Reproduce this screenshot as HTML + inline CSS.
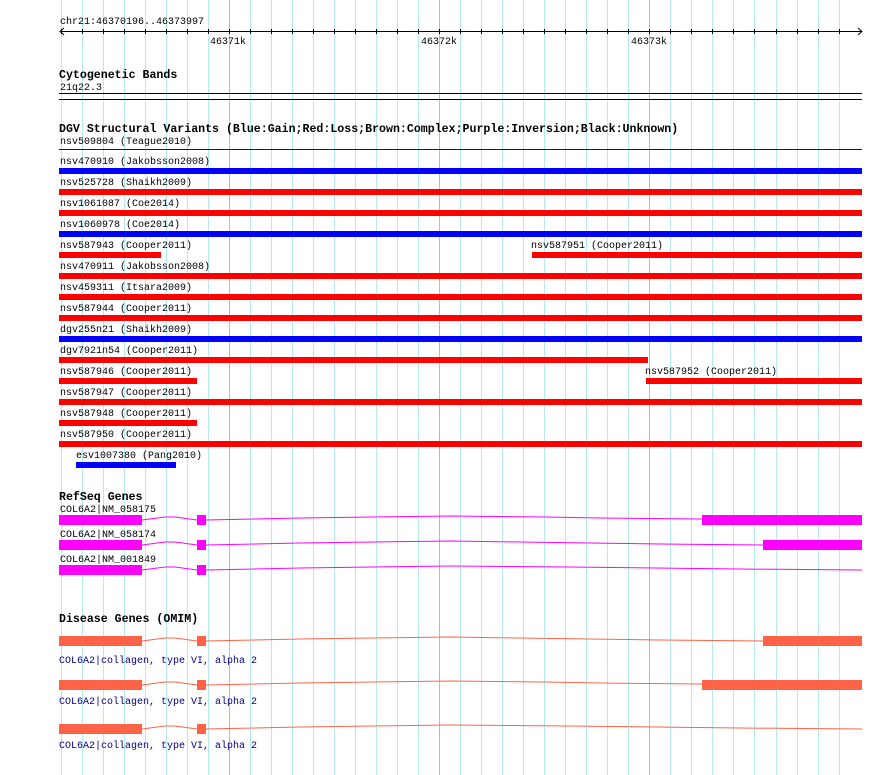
<!DOCTYPE html>
<html><head><meta charset="utf-8"><style>
html,body{margin:0;padding:0;background:#fff}
svg{display:block}
text{font-family:"Liberation Mono",monospace;font-size:10px;fill:#000}
.b{font-weight:bold;font-size:11.6px}
.n{fill:#00008b}
</style></head><body>
<svg width="890" height="775" viewBox="0 0 890 775" xmlns="http://www.w3.org/2000/svg">
<g stroke="#b4eaf0" stroke-width="1">
<line x1="61.5" y1="0" x2="61.5" y2="775"/><line x1="82.5" y1="0" x2="82.5" y2="775"/><line x1="103.5" y1="0" x2="103.5" y2="775"/><line x1="124.5" y1="0" x2="124.5" y2="775"/><line x1="145.5" y1="0" x2="145.5" y2="775"/><line x1="166.5" y1="0" x2="166.5" y2="775"/><line x1="187.5" y1="0" x2="187.5" y2="775"/><line x1="208.5" y1="0" x2="208.5" y2="775"/><line x1="250.5" y1="0" x2="250.5" y2="775"/><line x1="271.5" y1="0" x2="271.5" y2="775"/><line x1="292.5" y1="0" x2="292.5" y2="775"/><line x1="313.5" y1="0" x2="313.5" y2="775"/><line x1="334.5" y1="0" x2="334.5" y2="775"/><line x1="355.5" y1="0" x2="355.5" y2="775"/><line x1="376.5" y1="0" x2="376.5" y2="775"/><line x1="397.5" y1="0" x2="397.5" y2="775"/><line x1="418.5" y1="0" x2="418.5" y2="775"/><line x1="460.5" y1="0" x2="460.5" y2="775"/><line x1="481.5" y1="0" x2="481.5" y2="775"/><line x1="502.5" y1="0" x2="502.5" y2="775"/><line x1="523.5" y1="0" x2="523.5" y2="775"/><line x1="544.5" y1="0" x2="544.5" y2="775"/><line x1="565.5" y1="0" x2="565.5" y2="775"/><line x1="586.5" y1="0" x2="586.5" y2="775"/><line x1="607.5" y1="0" x2="607.5" y2="775"/><line x1="628.5" y1="0" x2="628.5" y2="775"/><line x1="670.5" y1="0" x2="670.5" y2="775"/><line x1="691.5" y1="0" x2="691.5" y2="775"/><line x1="712.5" y1="0" x2="712.5" y2="775"/><line x1="733.5" y1="0" x2="733.5" y2="775"/><line x1="754.5" y1="0" x2="754.5" y2="775"/><line x1="776.5" y1="0" x2="776.5" y2="775"/><line x1="797.5" y1="0" x2="797.5" y2="775"/><line x1="818.5" y1="0" x2="818.5" y2="775"/><line x1="839.5" y1="0" x2="839.5" y2="775"/>
</g>
<g stroke="#8cc8f0" stroke-width="1">
<line x1="229.5" y1="0" x2="229.5" y2="775"/><line x1="439.5" y1="0" x2="439.5" y2="775"/><line x1="649.5" y1="0" x2="649.5" y2="775"/>
</g>
<text x="60" y="24">chr21:46370196..46373997</text>
<line x1="60" y1="31.5" x2="862" y2="31.5" stroke="#000"/>
<polyline points="64,28 60,31.5 64,35" fill="none" stroke="#000"/>
<polyline points="858,28 862,31.5 858,35" fill="none" stroke="#000"/>
<g stroke="#000">
<line x1="61.5" y1="29" x2="61.5" y2="34"/><line x1="82.5" y1="29" x2="82.5" y2="34"/><line x1="103.5" y1="29" x2="103.5" y2="34"/><line x1="124.5" y1="29" x2="124.5" y2="34"/><line x1="145.5" y1="29" x2="145.5" y2="34"/><line x1="166.5" y1="29" x2="166.5" y2="34"/><line x1="187.5" y1="29" x2="187.5" y2="34"/><line x1="208.5" y1="29" x2="208.5" y2="34"/><line x1="229.5" y1="29" x2="229.5" y2="34"/><line x1="250.5" y1="29" x2="250.5" y2="34"/><line x1="271.5" y1="29" x2="271.5" y2="34"/><line x1="292.5" y1="29" x2="292.5" y2="34"/><line x1="313.5" y1="29" x2="313.5" y2="34"/><line x1="334.5" y1="29" x2="334.5" y2="34"/><line x1="355.5" y1="29" x2="355.5" y2="34"/><line x1="376.5" y1="29" x2="376.5" y2="34"/><line x1="397.5" y1="29" x2="397.5" y2="34"/><line x1="418.5" y1="29" x2="418.5" y2="34"/><line x1="439.5" y1="29" x2="439.5" y2="34"/><line x1="460.5" y1="29" x2="460.5" y2="34"/><line x1="481.5" y1="29" x2="481.5" y2="34"/><line x1="502.5" y1="29" x2="502.5" y2="34"/><line x1="523.5" y1="29" x2="523.5" y2="34"/><line x1="544.5" y1="29" x2="544.5" y2="34"/><line x1="565.5" y1="29" x2="565.5" y2="34"/><line x1="586.5" y1="29" x2="586.5" y2="34"/><line x1="607.5" y1="29" x2="607.5" y2="34"/><line x1="628.5" y1="29" x2="628.5" y2="34"/><line x1="649.5" y1="29" x2="649.5" y2="34"/><line x1="670.5" y1="29" x2="670.5" y2="34"/><line x1="691.5" y1="29" x2="691.5" y2="34"/><line x1="712.5" y1="29" x2="712.5" y2="34"/><line x1="733.5" y1="29" x2="733.5" y2="34"/><line x1="754.5" y1="29" x2="754.5" y2="34"/><line x1="776.5" y1="29" x2="776.5" y2="34"/><line x1="797.5" y1="29" x2="797.5" y2="34"/><line x1="818.5" y1="29" x2="818.5" y2="34"/><line x1="839.5" y1="29" x2="839.5" y2="34"/>
</g>
<text x="210" y="44">46371k</text>
<text x="421" y="44">46372k</text>
<text x="631" y="44">46373k</text>

<text class="b" x="59" y="78">Cytogenetic Bands</text>
<text x="60" y="90">21q22.3</text>
<rect x="59" y="93" width="803" height="1" fill="#000"/>
<rect x="59" y="99" width="803" height="1" fill="#000"/>

<text class="b" x="59" y="132">DGV Structural Variants (Blue:Gain;Red:Loss;Brown:Complex;Purple:Inversion;Black:Unknown)</text>
<text x="60" y="144">nsv509804 (Teague2010)</text>
<rect x="59" y="149" width="803" height="1" fill="#0000ff"/>

<text x="60" y="164">nsv470910 (Jakobsson2008)</text><rect x="59" y="168" width="803" height="6" fill="#0000ff"/>
<text x="60" y="185">nsv525728 (Shaikh2009)</text><rect x="59" y="189" width="803" height="6" fill="#ff0000"/>
<text x="60" y="206">nsv1061087 (Coe2014)</text><rect x="59" y="210" width="803" height="6" fill="#ff0000"/>
<text x="60" y="227">nsv1060978 (Coe2014)</text><rect x="59" y="231" width="803" height="6" fill="#0000ff"/>
<text x="60" y="248">nsv587943 (Cooper2011)</text><rect x="59" y="252" width="102" height="6" fill="#ff0000"/>
<text x="531" y="248">nsv587951 (Cooper2011)</text><rect x="532" y="252" width="330" height="6" fill="#ff0000"/>
<text x="60" y="269">nsv470911 (Jakobsson2008)</text><rect x="59" y="273" width="803" height="6" fill="#ff0000"/>
<text x="60" y="290">nsv459311 (Itsara2009)</text><rect x="59" y="294" width="803" height="6" fill="#ff0000"/>
<text x="60" y="311">nsv587944 (Cooper2011)</text><rect x="59" y="315" width="803" height="6" fill="#ff0000"/>
<text x="60" y="332">dgv255n21 (Shaikh2009)</text><rect x="59" y="336" width="803" height="6" fill="#0000ff"/>
<text x="60" y="353">dgv7921n54 (Cooper2011)</text><rect x="59" y="357" width="589" height="6" fill="#ff0000"/>
<text x="60" y="374">nsv587946 (Cooper2011)</text><rect x="59" y="378" width="138" height="6" fill="#ff0000"/>
<text x="645" y="374">nsv587952 (Cooper2011)</text><rect x="646" y="378" width="216" height="6" fill="#ff0000"/>
<text x="60" y="395">nsv587947 (Cooper2011)</text><rect x="59" y="399" width="803" height="6" fill="#ff0000"/>
<text x="60" y="416">nsv587948 (Cooper2011)</text><rect x="59" y="420" width="138" height="6" fill="#ff0000"/>
<text x="60" y="437">nsv587950 (Cooper2011)</text><rect x="59" y="441" width="803" height="6" fill="#ff0000"/>
<text x="76" y="458">esv1007380 (Pang2010)</text><rect x="76" y="462" width="100" height="6" fill="#0000ff"/>

<text class="b" x="59" y="500">RefSeq Genes</text>
<text x="60" y="512">COL6A2|NM_058175</text>
<rect x="59" y="515" width="83" height="10" fill="#ff00ff"/>
<rect x="197" y="515" width="9" height="10" fill="#ff00ff"/>
<rect x="702" y="515" width="160" height="10" fill="#ff00ff"/>
<polyline points="142,520 165,517 175,517 197,520" fill="none" stroke="#ff00ff"/>
<polyline points="206,520 300,518 450,516 545,517 600,518 702,519" fill="none" stroke="#ff00ff"/>
<text x="60" y="537">COL6A2|NM_058174</text>
<rect x="59" y="540" width="83" height="10" fill="#ff00ff"/>
<rect x="197" y="540" width="9" height="10" fill="#ff00ff"/>
<rect x="763" y="540" width="99" height="10" fill="#ff00ff"/>
<polyline points="142,545 165,542 175,542 197,545" fill="none" stroke="#ff00ff"/>
<polyline points="206,545 300,543 450,541 520,542 590,543 660,544 763,545" fill="none" stroke="#ff00ff"/>
<text x="60" y="562">COL6A2|NM_001849</text>
<rect x="59" y="565" width="83" height="10" fill="#ff00ff"/>
<rect x="197" y="565" width="9" height="10" fill="#ff00ff"/>
<polyline points="142,570 165,567 175,567 197,570" fill="none" stroke="#ff00ff"/>
<polyline points="206,570 300,568 450,566 570,567 655,568 740,569 862,570" fill="none" stroke="#ff00ff"/>

<text class="b" x="59" y="622">Disease Genes (OMIM)</text>
<rect x="59" y="636" width="83" height="10" fill="#ff6347"/>
<rect x="197" y="636" width="9" height="10" fill="#ff6347"/>
<rect x="763" y="636" width="99" height="10" fill="#ff6347"/>
<polyline points="142,641 165,638 175,638 197,641" fill="none" stroke="#ff6347"/>
<polyline points="206,641 300,639 450,637 520,638 590,639 660,640 763,641" fill="none" stroke="#ff6347"/>
<text class="n" x="59" y="663">COL6A2|collagen, type VI, alpha 2</text>
<rect x="59" y="680" width="83" height="10" fill="#ff6347"/>
<rect x="197" y="680" width="9" height="10" fill="#ff6347"/>
<rect x="702" y="680" width="160" height="10" fill="#ff6347"/>
<polyline points="142,685 165,682 175,682 197,685" fill="none" stroke="#ff6347"/>
<polyline points="206,685 300,683 450,681 545,682 600,683 702,684" fill="none" stroke="#ff6347"/>
<text class="n" x="59" y="704">COL6A2|collagen, type VI, alpha 2</text>
<rect x="59" y="724" width="83" height="10" fill="#ff6347"/>
<rect x="197" y="724" width="9" height="10" fill="#ff6347"/>
<polyline points="142,729 165,726 175,726 197,729" fill="none" stroke="#ff6347"/>
<polyline points="206,729 300,727 450,725 570,726 655,727 740,728 862,729" fill="none" stroke="#ff6347"/>
<text class="n" x="59" y="748">COL6A2|collagen, type VI, alpha 2</text>
</svg>
</body></html>
